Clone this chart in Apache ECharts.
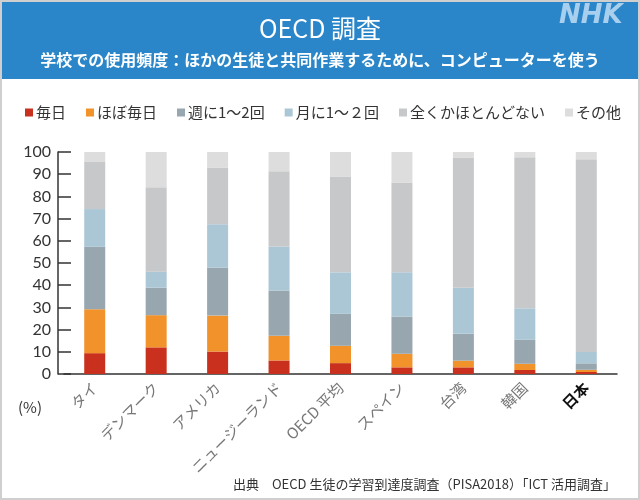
<!DOCTYPE html>
<html><head><meta charset="utf-8">
<script src="https://cdn.jsdelivr.net/npm/echarts@6/dist/echarts.min.js"></script>
<style>html,body{margin:0;padding:0;background:#fff}#c{width:640px;height:500px}</style>
</head><body><div id="c"></div>
<script>
const categories = ['タイ','デンマーク','アメリカ','ニュージーランド','OECD 平均','スペイン','台湾','韓国','日本'];
const seriesNames = ['毎日','ほぼ毎日','週に1〜2回','月に1〜２回','全くかほとんどない','その他'];
const daily      = [9.4, 12.0, 10.1, 6.1, 4.9, 3.0, 3.0, 1.8, 0.9];
const almostDaily= [19.8, 14.5, 16.2, 11.1, 7.8, 6.1, 3.0, 2.8, 1.0];
const weekly     = [28.1, 12.4, 21.7, 20.4, 14.4, 16.8, 12.1, 10.8, 2.9];
const monthly    = [17.0, 7.2, 19.4, 19.8, 18.7, 19.9, 20.8, 14.2, 5.1];
const never      = [21.2, 38.0, 25.6, 33.9, 43.0, 40.3, 58.6, 68.0, 86.8];
const other      = [4.5, 15.9, 7.0, 8.7, 11.2, 13.9, 2.5, 2.4, 3.3];
const yTicks = [0,10,20,30,40,50,60,70,80,90,100];
const colors = ['#c9301d','#f2922b','#97a6af','#abc7d6','#c7c8c9','#dddddd'];
const values = [daily, almostDaily, weekly, monthly, never, other];
const FONT = '"Noto Sans CJK JP", "Noto Sans", sans-serif';

const chart = echarts.init(document.getElementById('c'), null, {renderer:'canvas'});
chart.setOption({
  animation:false,
  textStyle:{fontFamily:FONT},
  graphic:[
    {type:'rect', shape:{x:1,y:1,width:638,height:498}, style:{fill:'#fff', stroke:'#cfcfcf', lineWidth:2}, z:-10},
    {type:'rect', shape:{x:2,y:2,width:636,height:77}, style:{fill:'#2a86c8'}, z:-5},
    {type:'text', left:559, top:3, style:{text:'NHK', fill:'#a9cfef', font:'italic bold 26px "DejaVu Sans", sans-serif'}},
    {type:'text', left:18, top:400, style:{text:'(%)', fill:'#333', font:'15px '+FONT}},
    {type:'text', right:24, top:478, style:{text:'出典　OECD 生徒の学習到達度調査（PISA2018）「ICT 活用調査」', fill:'#333', font:'13px '+FONT}}
  ],
  title:[
    {text:'OECD 調査', left:'center', top:11, textStyle:{color:'#fff', fontSize:25, fontWeight:'normal', fontFamily:FONT}},
    {text:'学校での使用頻度：ほかの生徒と共同作業するために、コンピューターを使う', left:'center', top:47, textStyle:{color:'#fff', fontSize:16, fontWeight:'bold', fontFamily:FONT}}
  ],
  legend:{
    left:20, top:100, itemWidth:8, itemHeight:8, itemGap:20, icon:'rect',
    textStyle:{color:'#333', fontSize:15, fontFamily:FONT, padding:[0,0,0,-2]},
    data:seriesNames
  },
  grid:{left:64, right:23, top:152, bottom:126, containLabel:false},
  xAxis:{
    type:'category', data:categories,
    axisLine:{lineStyle:{color:'#333', width:1.5}},
    axisTick:{show:false},
    axisLabel:{rotate:45, color:'#777', fontSize:15, margin:11, interval:0, fontFamily:FONT,
      formatter:function(v){ return v==='日本' ? '{b|'+v+'}' : v; },
      rich:{b:{color:'#111', fontWeight:'bold', fontSize:15, fontFamily:FONT}}}
  },
  yAxis:{
    type:'value', min:0, max:100, interval:10, offset:6,
    axisLine:{show:true, lineStyle:{color:'#333', width:1.5}},
    axisTick:{show:true, inside:true, length:13, lineStyle:{color:'#333', width:1.5}},
    splitLine:{show:false},
    axisLabel:{color:'#333', fontSize:16, margin:7, fontFamily:'"Lato", "Noto Sans", sans-serif',
      customValues: yTicks}
  },
  series: seriesNames.map((n,i)=>({
    name:n, type:'bar', stack:'all', barWidth:21, data:values[i],
    itemStyle:{color:colors[i]}
  }))
});
</script></body></html>
